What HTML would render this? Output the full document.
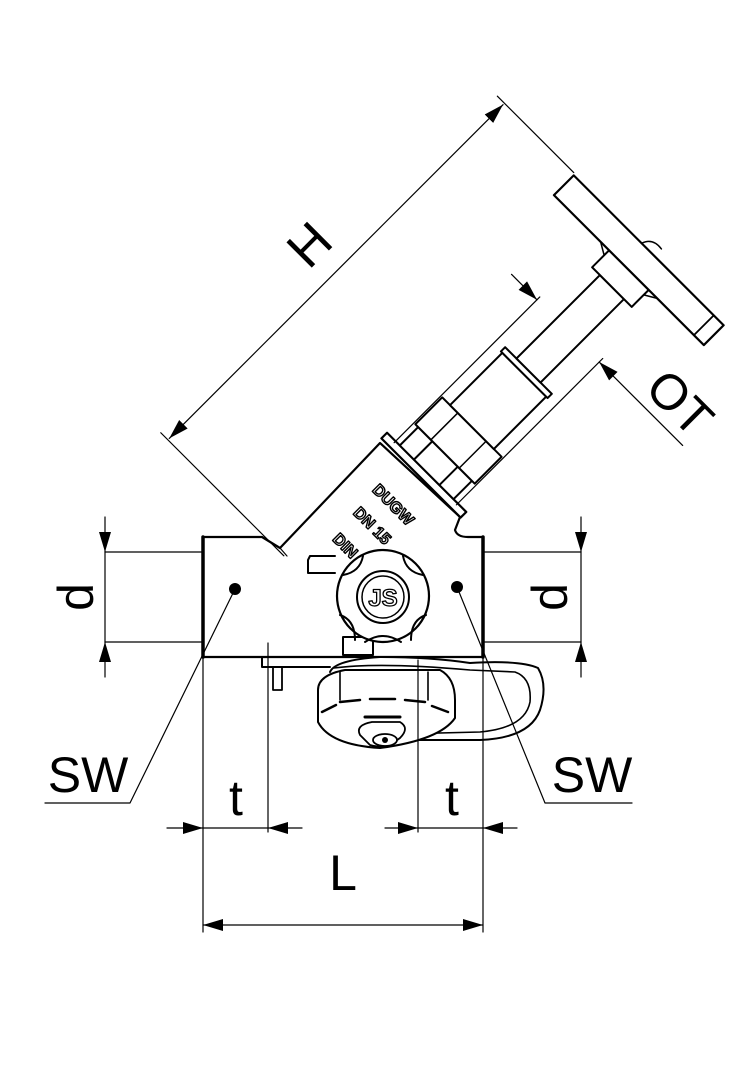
<!DOCTYPE html>
<html><head><meta charset="utf-8"><style>
html,body{margin:0;padding:0;background:#fff;}
svg{display:block;}
text{font-family:"Liberation Sans",sans-serif;}
</style></head><body>
<svg width="756" height="1080" viewBox="0 0 756 1080" xmlns="http://www.w3.org/2000/svg">
<defs>
<marker id="ar" viewBox="0 0 10 10" refX="10" refY="5" markerWidth="20" markerHeight="20" markerUnits="userSpaceOnUse" orient="auto-start-reverse">
<path d="M0,2 L10,5 L0,8 Z" fill="#000"/></marker>
</defs>
<g fill="none" stroke="#000" stroke-linecap="round" stroke-linejoin="round">

<!-- body -->
<path d="M203,537 L262,537 L280,548 L380,443 L460,517 L455,530 Q457,537 468,537 L483,537 L483,657 L203,657 Z" stroke-width="2.2" fill="#fff"/>
<line x1="203" y1="537" x2="203" y2="657" stroke-width="3.5"/>
<line x1="483" y1="537" x2="483" y2="657" stroke-width="3.5"/>
<line x1="280" y1="548" x2="287" y2="556" stroke-width="1.2"/>

<!-- stem group -->
<g transform="translate(421,478) rotate(-45)">
  <rect x="0" y="-56" width="8" height="112" stroke-width="2.2" fill="#fff"/>
  <rect x="8" y="-38" width="26" height="76" stroke-width="2" fill="#fff"/>
  <line x1="8" y1="-18" x2="34" y2="-18" stroke-width="2"/>
  <line x1="8" y1="18" x2="34" y2="18" stroke-width="2"/>
  <rect x="34" y="-42" width="38" height="84" stroke-width="2" fill="#fff"/>
  <line x1="34" y1="-20" x2="72" y2="-20" stroke-width="1.5"/>
  <line x1="34" y1="20" x2="72" y2="20" stroke-width="1.5"/>
  <rect x="72" y="-31" width="74" height="62" stroke-width="2" fill="#fff"/>
  <rect x="146" y="-33" width="6" height="66" stroke-width="2" fill="#fff"/>
  <rect x="152" y="-17" width="118" height="34" stroke-width="2" fill="#fff"/>
  <rect x="270" y="-28" width="24" height="56" stroke-width="2" fill="#fff"/>
  <rect x="294" y="-106" width="28" height="212" stroke-width="2.2" fill="#fff"/>
  <line x1="294" y1="92" x2="322" y2="92" stroke-width="1.8"/>
  <path d="M322,-10 Q334,-6 332,8" stroke-width="1.5"/>
  <path d="M294,-40 L287,-28 M294,40 L287,28" stroke-width="1.5"/>
  <!-- H dimension -->
  <line x1="-150" y1="-206" x2="322" y2="-206" stroke-width="1.2" marker-start="url(#ar)" marker-end="url(#ar)"/>
  <line x1="-152" y1="-216" x2="-152" y2="-42" stroke-width="1.2"/>
  <line x1="324" y1="-216" x2="324" y2="-108" stroke-width="1.2"/>
  <!-- OT dimension -->
  <line x1="6" y1="-44" x2="212" y2="-44" stroke-width="1.2"/>
  <line x1="6" y1="44" x2="213" y2="44" stroke-width="1.2"/>
  <line x1="208" y1="-80" x2="208" y2="-44" stroke-width="1.2" marker-end="url(#ar)"/>
  <line x1="208" y1="162" x2="208" y2="44" stroke-width="1.2" marker-end="url(#ar)"/>
  <text x="86" y="-226" font-size="52" fill="#000" stroke="none" text-anchor="middle">H</text>
  <text x="236" y="130" font-size="50" fill="#000" stroke="none" text-anchor="middle" dominant-baseline="central" transform="rotate(90 236 130)">OT</text>
</g>

<!-- markings -->
<g font-weight="bold" font-size="16" fill="#fff" stroke="#000" stroke-width="1.4" text-anchor="middle">
<text x="393" y="510" transform="rotate(45 393 505)">DUGW</text>
<text x="372" y="531" transform="rotate(45 372 526)">DN 15</text>
<text x="345" y="551" transform="rotate(45 345 546)">DIN</text>
</g>

<!-- tab and knob -->
<path d="M335,556 L310,556 L308,560 L308,573 L335,573" stroke-width="2" fill="#fff"/>
<rect x="343" y="637" width="30" height="18" stroke-width="2" fill="#fff"/>
<circle cx="383" cy="596" r="46" stroke-width="2.2" fill="#fff"/>
<path d="M343,575 Q360,572 363,556 M403,556 Q406,572 423,575 M340,615 Q355,620 355,640 M426,615 Q411,620 411,640 M365,642 Q383,630 401,642" stroke-width="2"/>
<circle cx="383" cy="597" r="26" stroke-width="2"/>
<circle cx="383" cy="597" r="21" stroke-width="1.5"/>
<text x="383" y="606" font-size="24" font-weight="bold" fill="#fff" stroke="#000" stroke-width="1.3" text-anchor="middle">JS</text>

<!-- bracket -->
<path d="M262,657 L262,667 L330,667" stroke-width="2"/>
<path d="M273,667 L273,690 L282,690 L282,667" stroke-width="1.8"/>
<!-- cap + loop -->
<path d="M330,672 Q335,660 380,657 Q430,657 470,663 Q520,660 538,668 Q548,685 540,710 Q530,738 480,740 L370,740" stroke-width="2" fill="#fff"/>
<path d="M334,668 Q380,662 470,670 L515,672 Q532,678 530,702 Q525,728 480,732 L360,735" stroke-width="1.6"/>
<path d="M318,690 Q318,675 345,670 L440,670 Q455,678 455,700 L455,718 Q440,740 380,748 Q330,745 318,722 Z" stroke-width="2" fill="#fff"/>
<path d="M340,672 L340,700 M428,672 L428,700" stroke-width="1.6"/>
<path d="M322,712 L336,705 M340,702 L360,700 M370,699 L395,699 M405,700 L425,702 M432,706 L448,712" stroke-width="2.5"/>
<path d="M365,717 L400,717" stroke-width="3"/>
<path d="M360,735 Q355,725 372,722 L400,722 Q410,728 400,738 Q385,750 370,745 Z" stroke-width="1.8" fill="#fff"/>
<ellipse cx="385" cy="740" rx="12" ry="6" stroke-width="1.8" fill="#fff"/>
<circle cx="385" cy="740" r="3" fill="#000" stroke="none"/>

<!-- SW dots & leaders -->
<circle cx="235" cy="589" r="6" fill="#000" stroke="none"/>
<circle cx="457" cy="587" r="6" fill="#000" stroke="none"/>
<polyline points="235,589 130,803 45,803" stroke-width="1.2"/>
<polyline points="457,587 545,803 632,803" stroke-width="1.2"/>

<!-- d dims -->
<line x1="105" y1="552" x2="203" y2="552" stroke-width="1.2"/>
<line x1="105" y1="642" x2="203" y2="642" stroke-width="1.2"/>
<line x1="105" y1="517" x2="105" y2="552" stroke-width="1.2" marker-end="url(#ar)"/>
<line x1="105" y1="677" x2="105" y2="642" stroke-width="1.2" marker-end="url(#ar)"/>
<line x1="105" y1="552" x2="105" y2="642" stroke-width="1.2"/>
<line x1="483" y1="552" x2="581" y2="552" stroke-width="1.2"/>
<line x1="483" y1="642" x2="581" y2="642" stroke-width="1.2"/>
<line x1="581" y1="517" x2="581" y2="552" stroke-width="1.2" marker-end="url(#ar)"/>
<line x1="581" y1="677" x2="581" y2="642" stroke-width="1.2" marker-end="url(#ar)"/>
<line x1="581" y1="552" x2="581" y2="642" stroke-width="1.2"/>

<!-- t & L -->
<line x1="203" y1="657" x2="203" y2="932" stroke-width="1.2"/>
<line x1="483" y1="657" x2="483" y2="932" stroke-width="1.2"/>
<line x1="268" y1="643" x2="268" y2="832" stroke-width="1.2"/>
<line x1="418" y1="660" x2="418" y2="832" stroke-width="1.2"/>
<line x1="167" y1="828" x2="203" y2="828" stroke-width="1.2" marker-end="url(#ar)"/>
<line x1="302" y1="828" x2="268" y2="828" stroke-width="1.2" marker-end="url(#ar)"/>
<line x1="203" y1="828" x2="268" y2="828" stroke-width="1.2"/>
<line x1="385" y1="828" x2="418" y2="828" stroke-width="1.2" marker-end="url(#ar)"/>
<line x1="517" y1="828" x2="483" y2="828" stroke-width="1.2" marker-end="url(#ar)"/>
<line x1="418" y1="828" x2="483" y2="828" stroke-width="1.2"/>
<line x1="203" y1="925" x2="483" y2="925" stroke-width="1.2" marker-start="url(#ar)" marker-end="url(#ar)"/>
</g>

<g fill="#000" font-size="50" font-family="Liberation Sans, sans-serif">
<text x="236" y="815" text-anchor="middle">t</text>
<text x="452" y="815" text-anchor="middle">t</text>
<text x="343" y="890" text-anchor="middle">L</text>
<text x="88" y="792" text-anchor="middle">SW</text>
<text x="592" y="792" text-anchor="middle">SW</text>
<text x="0" y="0" text-anchor="middle" dominant-baseline="central" transform="translate(76,597) rotate(-90)">d</text>
<text x="0" y="0" text-anchor="middle" dominant-baseline="central" transform="translate(550,597) rotate(-90)">d</text>
</g>
</svg>
</body></html>
